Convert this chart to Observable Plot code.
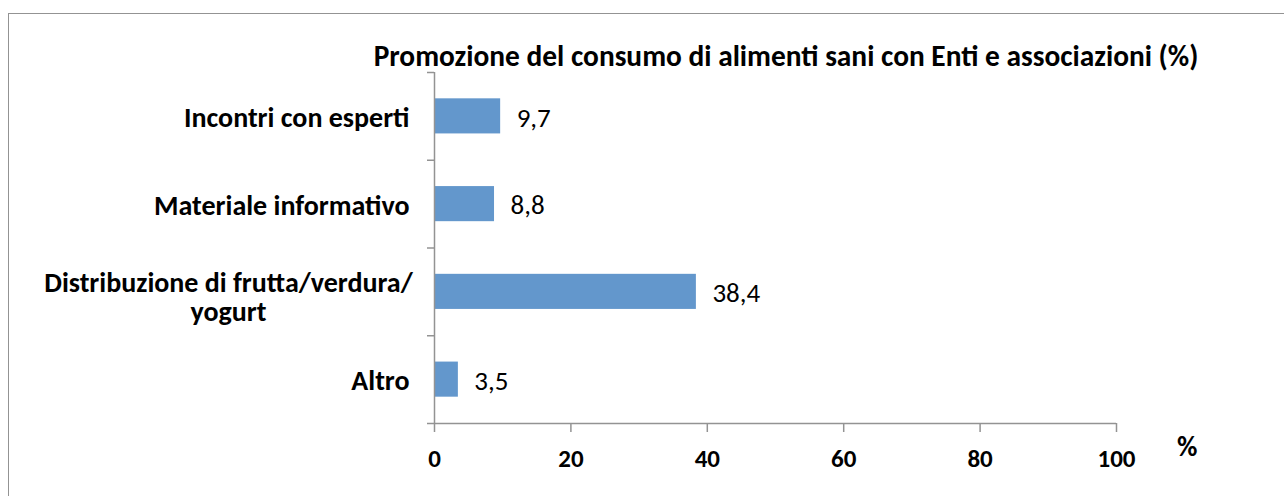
<!DOCTYPE html>
<html>
<head>
<meta charset="utf-8">
<script src="https://cdn.jsdelivr.net/npm/d3@7"></script>
<script src="https://cdn.jsdelivr.net/npm/@observablehq/plot@0.6"></script>
<style>
  html, body { margin: 0; padding: 0; background: #fff; }
  #wrap { position: relative; width: 1284px; height: 496px; overflow: hidden; font-family: Carlito, Calibri, "Liberation Sans", sans-serif; }
  #frame { position: absolute; left: 8px; top: 13px; width: 1400px; height: 600px; border-top: 1.5px solid #939393; border-left: 1.5px solid #939393; }
  #title { position: absolute; left: 286px; top: 42px; width: 1000px; text-align: center; font-weight: bold; font-size: 29.4px; line-height: 1; color: #000; white-space: nowrap; }
  #unit { position: absolute; left: 1177px; top: 433px; font-weight: bold; font-size: 28px; line-height: 1; }
  #chart { position: absolute; left: 0; top: 0; }
</style>
</head>
<body>
<div id="wrap">
  <div id="frame"></div>
  <div id="chart"></div>
  <div id="title"></div>
  <div id="unit"></div>
</div>
<script>
const title = "Promozione del consumo di alimenti sani con Enti e associazioni (%)";
const unitLabel = "%";
const categories = ["Incontri con esperti", "Materiale informativo", "Distribuzione di frutta/verdura/\nyogurt", "Altro"];
const values = [9.7, 8.8, 38.4, 3.5];
const valueLabels = ["9,7", "8,8", "38,4", "3,5"];
const xTicks = [0, 20, 40, 60, 80, 100];

document.getElementById("title").textContent = title;
document.getElementById("unit").textContent = unitLabel;

const data = categories.map((c, i) => ({cat: c, value: values[i], label: valueLabels[i], pos: i + 0.5, multi: c.includes("\n")}));
const boundaries = d3.range(categories.length + 1);
const font = "Carlito, Calibri, 'Liberation Sans', sans-serif";

const chart = Plot.plot({
  width: 1284,
  height: 496,
  marginLeft: 434,
  marginRight: 168,
  marginTop: 72,
  marginBottom: 73,
  style: {fontFamily: font, background: "transparent"},
  x: {type: "linear", domain: [0, 100], label: null},
  y: {type: "linear", domain: [categories.length, 0], label: null},
  marks: [
    Plot.rectX(data, {x1: 0, x2: "value", y1: d => d.pos - 0.2, y2: d => d.pos + 0.2, fill: "#6397cc"}),
    Plot.ruleX([0], {stroke: "#939393", strokeWidth: 1.5}),
    Plot.ruleY([categories.length], {stroke: "#939393", strokeWidth: 1.5}),
    Plot.axisX(xTicks, {tickSize: 9, tickPadding: 17, fontSize: 25, fontWeight: "bold", stroke: "#939393", fill: "#000", label: null, tickFormat: d => String(d), strokeWidth: 1.5}),
    Plot.axisY(boundaries, {tickSize: 7, tickFormat: () => "", stroke: "#939393", strokeWidth: 1.5, label: null}),
    Plot.text(data.filter(d => !d.multi), {x: 0, y: "pos", text: "cat", textAnchor: "end", dx: -25, dy: 1.5, fontSize: 28, fontWeight: "bold", fill: "#000"}),
    Plot.text(data.filter(d => d.multi), {x: 0, y: "pos", text: "cat", textAnchor: "middle", dx: -206, dy: 5, fontSize: 28, fontWeight: "bold", fill: "#000", lineHeight: 1.06}),
    Plot.text(data, {x: "value", y: "pos", text: "label", textAnchor: "start", dx: 16, dy: 1.5, fontSize: 27, fill: "#000"})
  ]
});
document.getElementById("chart").appendChild(chart);
</script>
</body>
</html>
